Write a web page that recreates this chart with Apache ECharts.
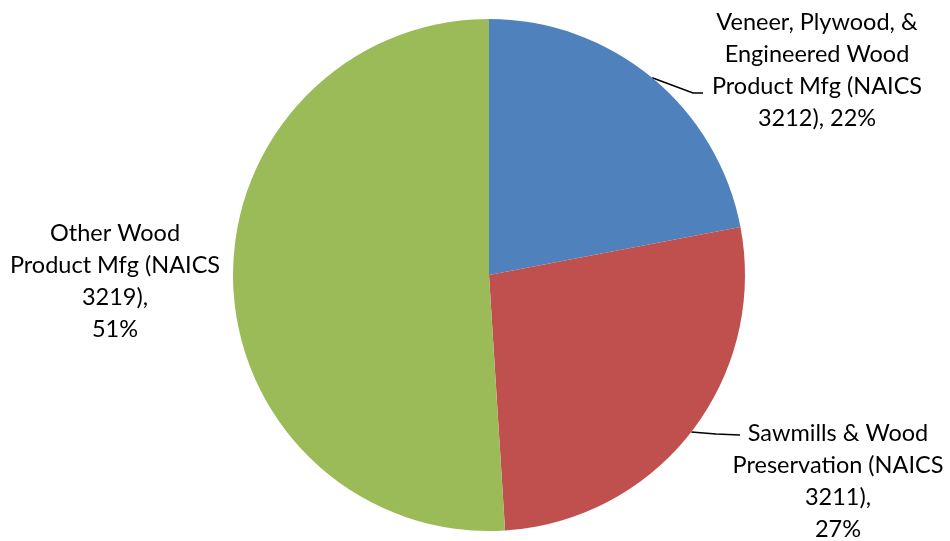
<!DOCTYPE html>
<html><head><meta charset="utf-8">
<script src="https://cdn.jsdelivr.net/npm/echarts@6/dist/echarts.min.js"></script>
<style>html,body{margin:0;padding:0;background:#fff}#c{width:950px;height:541px}</style>
</head><body><div id="c"></div>
<script>
var categories = ["Veneer, Plywood, &\nEngineered Wood\nProduct Mfg (NAICS\n3212), 22%", "Sawmills & Wood\nPreservation (NAICS\n3211),\n27%", "Other Wood\nProduct Mfg (NAICS\n3219),\n51%"];
var values = [22, 27, 51];
var colors = ["#4F81BD", "#C0504D", "#9BBB59"];
var labelPos = [[817, 70], [838, 481], [115, 281]];
var leaderEnds = [[[693, 93], [703, 93]], [[716, 434], [740, 435]], null];

var chart = echarts.init(document.getElementById('c'), null, {renderer: 'canvas'});
chart.setOption({
  animation: false,
  series: [{
    type: 'pie',
    center: [489, 275],
    radius: 256,
    startAngle: 90,
    clockwise: true,
    itemStyle: {borderWidth: 0},
    label: {
      show: true,
      formatter: '{b}',
      fontFamily: 'Lato',
      fontSize: 23.5,
      lineHeight: 32,
      color: '#000',
      align: 'center',
      overflow: 'none'
    },
    labelLine: {show: true, lineStyle: {color: '#000', width: 1.5}},
    labelLayout: function (p) {
      var pos = labelPos[p.dataIndex];
      var o = {x: pos[0], y: pos[1], align: 'center', verticalAlign: 'middle'};
      var e = leaderEnds[p.dataIndex];
      if (e && p.labelLinePoints) {
        o.labelLinePoints = [p.labelLinePoints[0], e[0], e[1]];
      }
      return o;
    },
    data: categories.map(function (c, i) {
      return {
        name: c, value: values[i],
        itemStyle: {color: colors[i]},
        labelLine: {show: i !== 2}
      };
    })
  }]
});
</script></body></html>
